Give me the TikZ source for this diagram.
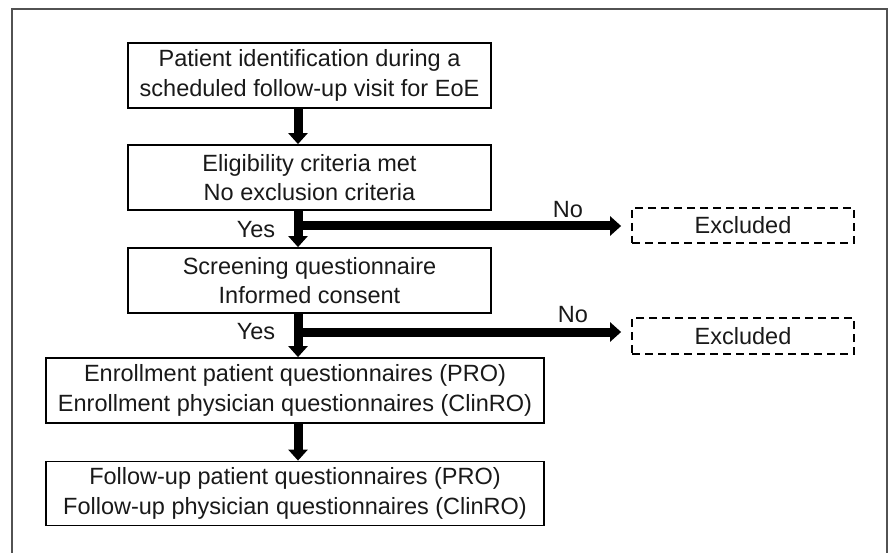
\documentclass[tikz,border=0pt]{standalone}
\usepackage{fontspec}
\setmainfont{Liberation Sans}
\usetikzlibrary{arrows.meta}
\begin{document}
\begin{tikzpicture}[x=1pt,y=-1pt,
  box/.style={draw=black, line width=1.8pt, align=center, inner sep=0pt,
    font=\fontsize{23.5}{29.5}\selectfont, text=black!90},
  exbox/.style={draw=black, line width=1.8pt, dash pattern=on 8pt off 5pt,
    inner sep=0pt, font=\fontsize{23.5}{29}\selectfont, text=black!90},
  bigarrow/.style={line width=9pt, -{Triangle[width=19pt,length=11pt]}},
  lbl/.style={font=\fontsize{23.5}{29}\selectfont, text=black!90, inner sep=0pt}]
\useasboundingbox (0,0) rectangle (891,553);
\draw[black!68, line width=2pt] (12,553) -- (12,9) -- (887,9) -- (887,553);

\node[box, minimum width=363pt, minimum height=65pt] (b1) at (309.5,75.5)
  {Patient identification during a\\scheduled follow-up visit for EoE};
\node[box, minimum width=363pt, minimum height=65pt] (b2) at (309.5,177.5)
  {Eligibility criteria met\\No exclusion criteria};
\node[box, minimum width=363pt, minimum height=65pt] (b3) at (309.5,280.5)
  {Screening questionnaire\\Informed consent};
\node[box, minimum width=498pt, minimum height=65pt] (b4) at (295,390.5)
  {Enrollment patient questionnaires (PRO)\\Enrollment physician questionnaires (ClinRO)};
\node[box, minimum width=498pt, minimum height=64pt] (b5) at (295,493.5)
  {Follow-up patient questionnaires (PRO)\\Follow-up physician questionnaires (ClinRO)};
\node[exbox, minimum width=222pt, minimum height=35pt] (e1) at (743,225.5) {Excluded};
\node[exbox, minimum width=222pt, minimum height=36pt] (e2) at (743,336) {Excluded};

\coordinate (col) at (298,0);
\coordinate (j1) at (298,226);
\coordinate (j2) at (298,332);

\draw[bigarrow] (b1.south -| col) -- (b2.north -| col);
\draw[bigarrow] (b2.south -| col) -- (b3.north -| col);
\draw[bigarrow] (b3.south -| col) -- (b4.north -| col);
\draw[bigarrow] (b4.south -| col) -- (b5.north -| col);
\draw[bigarrow, shorten >=10pt] (j1) -- (e1.west |- j1);
\draw[bigarrow, shorten >=10pt] (j2) -- (e2.west |- j2);

\node[lbl] (y1) at (256,230) {Yes};
\node[lbl] (y2) at (256,332) {Yes};
\node[lbl] (n1) at (568,210) {No};
\node[lbl] (n2) at (573,315) {No};
\end{tikzpicture}
\end{document}
